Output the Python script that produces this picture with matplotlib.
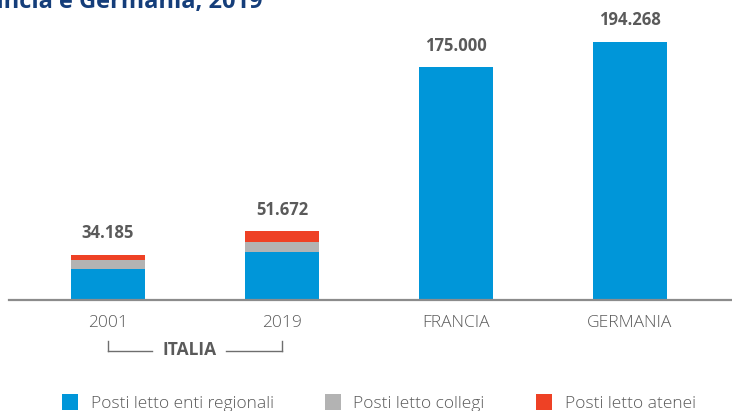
import matplotlib
matplotlib.use("Agg")
import matplotlib.pyplot as plt
from matplotlib.patches import Patch
from matplotlib.lines import Line2D
import matplotlib.transforms as mtransforms

plt.rcParams['font.family'] = ['Open Sans', 'DejaVu Sans']

# ---- data ----
categories = ["2001", "2019", "FRANCIA", "GERMANIA"]
enti_regionali = [23100, 36000, 175000, 194268]
collegi = [7050, 7400, 0, 0]
atenei = [4035, 8272, 0, 0]
totals = ["34.185", "51.672", "175.000", "194.268"]
series_names = ["Posti letto enti regionali", "Posti letto collegi", "Posti letto atenei"]
group_label = "ITALIA"
title = "Francia e Germania, 2019"

colors = ["#0096D9", "#B3B3B3", "#EE4125"]
text_gray = "#5A5A5A"

W, H = 732, 411
fig = plt.figure(figsize=(W / 100, H / 100), dpi=100)

def fy(px):
    return 1 - px / H

# axes: left 9px to right edge, baseline at y=300px
yscale = 1.33 / 1000  # px per unit
ymax = 200000
ax_h = ymax * yscale
ax = fig.add_axes([9 / W, fy(300), (W - 9) / W, ax_h / H])

x = list(range(len(categories)))
width = 0.425
bottom2 = [a + b for a, b in zip(enti_regionali, collegi)]
ax.bar(x, enti_regionali, width, color=colors[0], label=series_names[0], zorder=2)
ax.bar(x, collegi, width, bottom=enti_regionali, color=colors[1], label=series_names[1], zorder=2)
ax.bar(x, atenei, width, bottom=bottom2, color=colors[2], label=series_names[2], zorder=2)

tops = [a + b + c for a, b, c in zip(enti_regionali, collegi, atenei)]
for xi, t, lab in zip(x, tops, totals):
    ax.annotate(lab, (xi, t), xytext=(0, 9), textcoords="offset points",
                ha="center", va="bottom", fontsize=12, fontweight="bold",
                color=text_gray)

spacing = 174
ax.set_xlim(-99 / spacing, (W - 9 - 99) / spacing)
ax.set_ylim(0, ymax)
for s in ["top", "right", "left"]:
    ax.spines[s].set_visible(False)
ax.spines["bottom"].set_color("#8C8C8C")
ax.spines["bottom"].set_linewidth(1.6)
ax.set_yticks([])
ax.set_xticks(x)
ax.set_xticklabels(categories, fontsize=12.5, color=text_gray, fontweight="light")
ax.tick_params(axis="x", length=0, pad=11)

# ITALIA bracket
tr = mtransforms.blended_transform_factory(ax.transData, fig.transFigure)
bk = dict(color="#6E6E6E", linewidth=1.0, transform=tr, clip_on=False)
y_top, y_bot = fy(341), fy(350.5)
fig.add_artist(Line2D([0, 0], [y_top, y_bot], **bk))
fig.add_artist(Line2D([0, (152 - 108) / spacing], [y_bot, y_bot], **bk))
fig.add_artist(Line2D([1, 1], [y_top, y_bot], **bk))
fig.add_artist(Line2D([(226 - 108) / spacing, 1], [y_bot, y_bot], **bk))
fig.text((189.5) / W, fy(350), group_label, ha="center", va="center",
         fontsize=12.5, fontweight="bold", color=text_gray)

# title (cut off at the top-left edge in the original)
fig.text(263 / W, fy(8), title, ha="right", va="baseline", fontsize=17,
         fontweight="bold", color="#153E7A")

# legend
handles = [Patch(facecolor=c, edgecolor="none") for c in colors]
leg = fig.legend(handles, series_names, loc="lower left", ncol=3,
                 bbox_to_anchor=(55 / W, fy(419)), frameon=False,
                 fontsize=12.5, handlelength=0.95, handleheight=1.1,
                 handletextpad=0.7, columnspacing=2.95, borderaxespad=0)
for t in leg.get_texts():
    t.set_color(text_gray)
    t.set_fontweight("light")

fig.savefig("out.png", dpi=100)
